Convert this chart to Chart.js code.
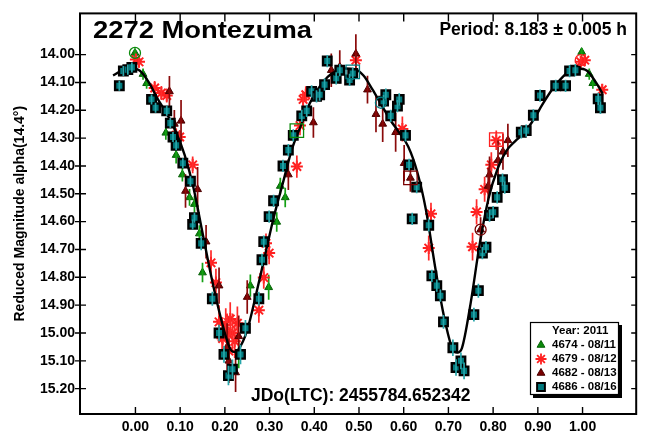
<!DOCTYPE html>
<html>
<head>
<meta charset="utf-8">
<script src="https://cdn.jsdelivr.net/npm/chart.js@4.4.0/dist/chart.umd.min.js"></script>
<style>
  html, body { margin: 0; padding: 0; background: #fff; }
</style>
</head>
<body>
<canvas id="grafico" width="647" height="435"></canvas>
<script>
    // sessoes: fase, magnitude reduzida e erro
    const fase4674 = [-0.001, 0.017, 0.025, 0.068, 0.091, 0.105, 0.121, 0.132, 0.143, 0.150, 0.231, 0.257, 0.298, 0.316, 0.324, 0.335, 0.998, 1.015, 1.023];
    const mag4674 = [13.994, 14.070, 14.103, 14.281, 14.361, 14.431, 14.513, 14.537, 14.643, 14.783, 15.077, 14.830, 14.836, 14.601, 14.472, 14.513, 13.991, 14.070, 14.103];
    const erro4674 = [0.015, 0.02, 0.02, 0.025, 0.03, 0.025, 0.03, 0.03, 0.03, 0.035, 0.05, 0.04, 0.045, 0.035, 0.03, 0.035, 0.015, 0.02, 0.02];

    const fase4679 = [0.001, 0.008, 0.043, 0.058, 0.070, 0.091, 0.099, 0.128, 0.169, 0.180, 0.187, 0.194, 0.195, 0.202, 0.205, 0.209, 0.212, 0.217, 0.222, 0.228, 0.276, 0.287, 0.292, 0.299, 0.361, 0.368, 0.375, 0.381, 0.493, 0.597, 0.656, 0.661, 0.754, 0.763, 0.781, 0.796, 0.807, 0.996, 1.005, 1.044];
    const mag4679 = [14.018, 14.026, 14.120, 14.138, 14.147, 14.290, 14.296, 14.396, 14.748, 14.819, 14.960, 15.015, 15.020, 14.971, 15.000, 15.065, 14.950, 15.000, 15.030, 14.965, 14.918, 14.801, 14.678, 14.713, 14.402, 14.255, 14.161, 14.144, 14.020, 14.267, 14.695, 14.572, 14.690, 14.565, 14.484, 14.396, 14.308, 14.026, 14.020, 14.126];
    const erro4679 = [0.02, 0.02, 0.025, 0.025, 0.025, 0.025, 0.025, 0.03, 0.045, 0.05, 0.06, 0.07, 0.06, 0.06, 0.07, 0.06, 0.06, 0.07, 0.06, 0.06, 0.045, 0.04, 0.035, 0.04, 0.04, 0.035, 0.03, 0.03, 0.035, 0.045, 0.045, 0.04, 0.05, 0.045, 0.045, 0.045, 0.035, 0.02, 0.02, 0.02];

    const fase4682 = [0.076, 0.087, 0.102, 0.112, 0.139, 0.158, 0.187, 0.205, 0.209, 0.224, 0.231, 0.250, 0.342, 0.398, 0.438, 0.457, 0.493, 0.519, 0.538, 0.553, 0.582, 0.601, 0.615, 0.772, 0.789, 0.792, 0.811, 0.822, 0.833];
    const mag4682 = [14.132, 14.249, 14.238, 14.490, 14.484, 14.672, 14.830, 15.050, 15.100, 15.142, 15.012, 14.871, 14.431, 14.244, 14.056, 14.044, 13.997, 14.126, 14.214, 14.249, 14.279, 14.390, 14.443, 14.629, 14.472, 14.431, 14.379, 14.349, 14.308];
    const erro4682 = [0.055, 0.05, 0.075, 0.06, 0.08, 0.06, 0.065, 0.085, 0.08, 0.07, 0.075, 0.06, 0.055, 0.055, 0.06, 0.06, 0.07, 0.05, 0.065, 0.065, 0.07, 0.065, 0.05, 0.045, 0.065, 0.065, 0.07, 0.065, 0.06];

    const fase4686 = [-0.036, -0.027, -0.017, -0.008, 0.036, 0.045, 0.070, 0.078, 0.084, 0.091, 0.106, 0.123, 0.128, 0.132, 0.147, 0.172, 0.187, 0.198, 0.208, 0.217, 0.235, 0.246, 0.276, 0.283, 0.287, 0.299, 0.309, 0.330, 0.342, 0.353, 0.372, 0.383, 0.394, 0.405, 0.412, 0.423, 0.429, 0.449, 0.457, 0.479, 0.486, 0.555, 0.560, 0.571, 0.586, 0.590, 0.604, 0.612, 0.619, 0.629, 0.656, 0.663, 0.674, 0.682, 0.689, 0.710, 0.717, 0.728, 0.735, 0.757, 0.767, 0.776, 0.784, 0.792, 0.800, 0.809, 0.821, 0.826, 0.863, 0.874, 0.890, 0.905, 0.940, 0.962, 0.971, 0.984, 1.035, 1.040];
    const mag4686 = [14.112, 14.059, 14.054, 14.046, 14.161, 14.191, 14.202, 14.246, 14.296, 14.326, 14.390, 14.455, 14.610, 14.586, 14.678, 14.877, 15.000, 15.077, 15.153, 15.130, 15.077, 14.983, 14.877, 14.737, 14.672, 14.582, 14.525, 14.400, 14.343, 14.290, 14.220, 14.202, 14.132, 14.150, 14.144, 14.108, 14.023, 14.085, 14.056, 14.091, 14.068, 14.167, 14.144, 14.220, 14.185, 14.161, 14.290, 14.396, 14.590, 14.476, 14.613, 14.795, 14.830, 14.866, 14.960, 15.053, 15.124, 15.100, 15.136, 14.934, 14.848, 14.713, 14.692, 14.578, 14.566, 14.513, 14.449, 14.478, 14.279, 14.273, 14.218, 14.147, 14.112, 14.112, 14.059, 14.056, 14.159, 14.191];
    const erro4686 = [0.018, 0.018, 0.018, 0.018, 0.018, 0.018, 0.018, 0.018, 0.018, 0.018, 0.018, 0.018, 0.018, 0.018, 0.025, 0.025, 0.03, 0.03, 0.035, 0.035, 0.035, 0.03, 0.025, 0.022, 0.022, 0.022, 0.022, 0.022, 0.022, 0.022, 0.022, 0.022, 0.022, 0.022, 0.022, 0.022, 0.022, 0.022, 0.022, 0.022, 0.022, 0.022, 0.022, 0.022, 0.022, 0.022, 0.022, 0.022, 0.022, 0.022, 0.022, 0.022, 0.022, 0.022, 0.025, 0.03, 0.03, 0.03, 0.03, 0.025, 0.025, 0.022, 0.022, 0.022, 0.022, 0.022, 0.022, 0.022, 0.022, 0.022, 0.022, 0.022, 0.022, 0.022, 0.022, 0.022, 0.022, 0.022];

    // curva de Fourier ajustada
    const ajusteFase = [-0.05, -0.03, -0.01, 0.01, 0.03, 0.05, 0.07, 0.09, 0.11, 0.13, 0.15, 0.17, 0.19, 0.21, 0.22, 0.23, 0.25, 0.27, 0.29, 0.31, 0.33, 0.35, 0.37, 0.39, 0.41, 0.43, 0.45, 0.47, 0.49, 0.51, 0.53, 0.55, 0.57, 0.59, 0.61, 0.63, 0.65, 0.67, 0.69, 0.71, 0.72, 0.73, 0.75, 0.77, 0.79, 0.81, 0.83, 0.85, 0.87, 0.89, 0.91, 0.93, 0.95, 0.97, 0.99, 1.01, 1.03, 1.045];
    const ajusteMag = [14.075, 14.057, 14.050, 14.058, 14.100, 14.160, 14.212, 14.275, 14.360, 14.480, 14.640, 14.800, 14.940, 15.050, 15.068, 15.060, 14.990, 14.860, 14.720, 14.580, 14.460, 14.340, 14.255, 14.175, 14.120, 14.080, 14.058, 14.050, 14.052, 14.075, 14.125, 14.180, 14.235, 14.280, 14.330, 14.420, 14.560, 14.760, 14.940, 15.060, 15.070, 15.055, 14.890, 14.680, 14.515, 14.410, 14.345, 14.310, 14.280, 14.235, 14.180, 14.130, 14.090, 14.060, 14.050, 14.058, 14.100, 14.140];

    // marcas abertas (uma por sessao: 4674, 4679, 4682, 4686)
    const circulosFase = [-0.001, 0.996, 0.772, 0.549];
    const circulosMag = [13.994, 14.020, 14.629, 14.173];
    const quadradosFase = [0.361, 0.807, 0.615, 0.486];
    const quadradosMag = [14.273, 14.305, 14.443, 14.062];

    const ticksX = [0, 0.1, 0.2, 0.3, 0.4, 0.5, 0.6, 0.7, 0.8, 0.9, 1.0];
    const ticksY = [14.0, 14.1, 14.2, 14.3, 14.4, 14.5, 14.6, 14.7, 14.8, 14.9, 15.0, 15.1, 15.2];
    const sessoes = ['4674 - 08/11', '4679 - 08/12', '4682 - 08/13', '4686 - 08/16'];
    const titulo = '2272 Montezuma';
    const periodo = 'Period: 8.183 \u00b1 0.005 h';
    const jdo = 'JDo(LTC): 2455784.652342';
    const ano = 'Year: 2011';

    const FONTE = "'Liberation Sans', Arial, sans-serif";
    const cores = ['#0b8a0b', '#ff1f1f', '#7a0000', '#00797d'];

    function pontos(xs, ys) {
      return xs.map((x, i) => ({ x: x, y: ys[i] }));
    }

    const barrasErro = {
      id: 'barrasErro',
      afterDatasetDraw(chart, args) {
        const ds = chart.data.datasets[args.index];
        if (!ds.erros) return;
        const { ctx, chartArea, scales: { x, y } } = chart;
        ctx.save();
        ctx.beginPath();
        ctx.rect(chartArea.left, chartArea.top, chartArea.right - chartArea.left, chartArea.bottom - chartArea.top);
        ctx.clip();
        ctx.strokeStyle = ds.corErro;
        ctx.lineWidth = 1.7;
        ds.data.forEach((p, i) => {
          const px = x.getPixelForValue(p.x);
          ctx.beginPath();
          ctx.moveTo(px, y.getPixelForValue(p.y - ds.erros[i]));
          ctx.lineTo(px, y.getPixelForValue(p.y + ds.erros[i]));
          ctx.stroke();
        });
        ctx.restore();
      }
    };

    const moldura = {
      id: 'moldura',
      afterDraw(chart) {
        const { ctx, chartArea: a, scales: { x, y } } = chart;
        ctx.save();
        ctx.strokeStyle = '#000';
        ctx.lineWidth = 2;
        ctx.strokeRect(a.left, a.top, a.right - a.left, a.bottom - a.top);

        ctx.lineWidth = 1.4;
        ctx.beginPath();
        y.ticks.forEach(t => {
          const py = y.getPixelForValue(t.value);
          ctx.moveTo(a.left - 5, py); ctx.lineTo(a.left + 6, py);
          ctx.moveTo(a.right - 5, py); ctx.lineTo(a.right, py);
        });
        x.ticks.forEach(t => {
          const px = x.getPixelForValue(t.value);
          ctx.moveTo(px, a.top); ctx.lineTo(px, a.top + 8);
          ctx.moveTo(px, a.bottom - 7); ctx.lineTo(px, a.bottom);
        });
        ctx.stroke();

        ctx.fillStyle = '#000';
        ctx.textBaseline = 'alphabetic';
        ctx.save();
        ctx.translate(93, 37.5);
        ctx.scale(1.14, 1);
        ctx.font = 'bold 24px ' + FONTE;
        ctx.fillText(titulo, 0, 0);
        ctx.restore();

        ctx.font = 'bold 17.5px ' + FONTE;
        ctx.textAlign = 'right';
        ctx.fillText(periodo, 627, 34.5);
        ctx.textAlign = 'left';
        ctx.fillText(jdo, 251, 400.5);

        // legenda
        ctx.fillStyle = '#000';
        ctx.fillRect(533, 325, 89, 73);
        ctx.fillStyle = '#fff';
        ctx.fillRect(530, 322, 89, 73);
        ctx.lineWidth = 1.2;
        ctx.strokeRect(530.5, 322.5, 88, 72);
        ctx.fillStyle = '#000';
        ctx.font = 'bold 11.5px ' + FONTE;
        ctx.textBaseline = 'middle';
        ctx.fillText(ano, 552, 331);
        const estilos = [
          { pointStyle: 'triangle', radius: 4.5, borderWidth: 1, fill: cores[0], borda: '#066006' },
          { pointStyle: 'star', radius: 5.5, borderWidth: 1.8, fill: cores[1], borda: cores[1] },
          { pointStyle: 'triangle', radius: 4.5, borderWidth: 1, fill: cores[2], borda: '#4a0000' },
          { pointStyle: 'rect', radius: 5.5, borderWidth: 2, fill: cores[3], borda: '#000' }
        ];
        sessoes.forEach((s, i) => {
          const yy = 345 + i * 14;
          const e = estilos[i];
          ctx.fillStyle = e.fill;
          ctx.strokeStyle = e.borda;
          ctx.lineWidth = e.borderWidth;
          Chart.helpers.drawPoint(ctx, { pointStyle: e.pointStyle, radius: e.radius, rotation: 0, borderWidth: e.borderWidth }, 541, yy);
          ctx.fillStyle = '#000';
          ctx.fillText(s, 552, yy);
        });
        ctx.restore();
      }
    };

    const ctx = document.getElementById('grafico').getContext('2d');
    const grafico = new Chart(ctx, {
      type: 'scatter',
      data: {
        datasets: [
          {
            label: 'ajuste',
            data: pontos(ajusteFase, ajusteMag),
            showLine: true,
            borderColor: '#000',
            borderWidth: 2.4,
            pointRadius: 0,
            cubicInterpolationMode: 'monotone',
            order: 1
          },
          {
            label: sessoes[0],
            data: pontos(fase4674, mag4674),
            erros: erro4674,
            corErro: '#14a014',
            pointStyle: 'triangle',
            pointRadius: 4.5,
            backgroundColor: cores[0],
            borderColor: '#066006',
            borderWidth: 1,
            order: 4
          },
          {
            label: sessoes[1],
            data: pontos(fase4679, mag4679),
            erros: erro4679,
            corErro: '#ff2a2a',
            pointStyle: 'star',
            pointRadius: 6,
            backgroundColor: cores[1],
            borderColor: cores[1],
            borderWidth: 2,
            order: 3
          },
          {
            label: sessoes[2],
            data: pontos(fase4682, mag4682),
            erros: erro4682,
            corErro: '#8a0a0a',
            pointStyle: 'triangle',
            pointRadius: 4.5,
            backgroundColor: cores[2],
            borderColor: '#4a0000',
            borderWidth: 1,
            order: 2
          },
          {
            label: sessoes[3],
            data: pontos(fase4686, mag4686),
            erros: erro4686,
            corErro: '#27a6aa',
            pointStyle: 'rect',
            pointRadius: 6,
            backgroundColor: cores[3],
            borderColor: '#000',
            borderWidth: 2.4,
            order: 0
          },
          {
            label: 'circulos',
            data: pontos(circulosFase, circulosMag),
            pointStyle: 'circle',
            pointRadius: 5.5,
            backgroundColor: 'rgba(0,0,0,0)',
            borderColor: cores,
            borderWidth: 1.3,
            order: -1
          },
          {
            label: 'quadrados',
            data: pontos(quadradosFase, quadradosMag),
            pointStyle: 'rect',
            pointRadius: 9.5,
            backgroundColor: 'rgba(0,0,0,0)',
            borderColor: cores,
            borderWidth: 1.3,
            order: -1
          }
        ]
      },
      options: {
        responsive: false,
        animation: false,
        events: [],
        layout: { padding: { top: 7, right: 7, left: 0, bottom: 0 } },
        plugins: {
          legend: { display: false },
          tooltip: { enabled: false }
        },
        scales: {
          x: {
            type: 'linear',
            min: -0.124,
            max: 1.12,
            afterBuildTicks: s => { s.ticks = ticksX.map(v => ({ value: v })); },
            afterFit: s => { s.height = 21; },
            grid: { display: false, drawTicks: false },
            border: { display: false },
            ticks: {
              padding: 5,
              autoSkip: false,
              maxRotation: 0,
              color: '#000',
              font: { family: FONTE, size: 14, weight: 'bold' },
              callback: v => v.toFixed(2)
            }
          },
          y: {
            type: 'linear',
            reverse: true,
            min: 13.852,
            max: 15.291,
            afterBuildTicks: s => { s.ticks = ticksY.map(v => ({ value: v })); },
            afterFit: s => { s.width = 80; },
            grid: { display: false, drawTicks: false },
            border: { display: false },
            ticks: {
              padding: 5,
              autoSkip: false,
              color: '#000',
              font: { family: FONTE, size: 14, weight: 'bold' },
              callback: v => v.toFixed(2)
            },
            title: {
              display: true,
              text: 'Reduced Magnitude alpha(14.4\u00b0)',
              color: '#000',
              font: { family: FONTE, size: 14, weight: 'bold' },
              padding: { top: 12, bottom: 0 }
            }
          }
        }
      },
      plugins: [barrasErro, moldura]
    });
</script>
</body>
</html>
